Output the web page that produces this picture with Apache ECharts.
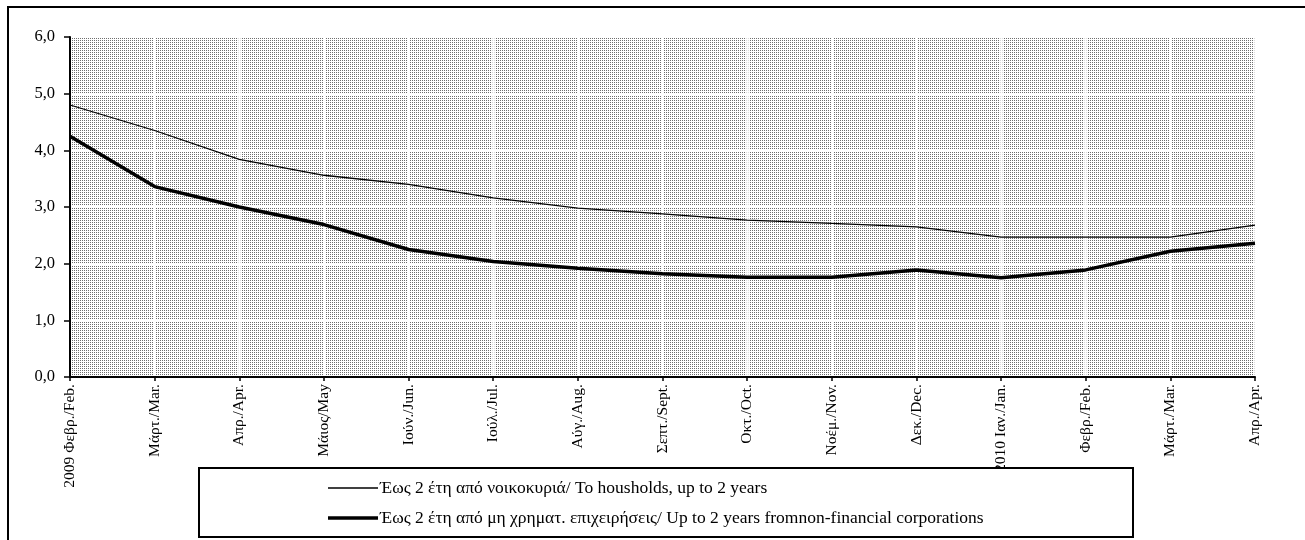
<!DOCTYPE html>
<html>
<head>
<meta charset="utf-8">
<script src="https://cdn.jsdelivr.net/npm/echarts@6/dist/echarts.min.js"></script>
<style>
html,body{margin:0;padding:0;background:#fff;}
#chart{width:1305px;height:540px;}
</style>
</head>
<body>
<div id="chart"></div>
<script>
const categories = ["2009 Φεβρ./Feb.", "Μάρτ./Mar.", "Απρ./Apr.", "Μάιος/May", "Ιούν./Jun.", "Ιούλ./Jul.", "Αύγ./Aug.", "Σεπτ./Sept.", "Οκτ./Oct.", "Νοέμ./Nov.", "Δεκ./Dec.", "2010 Ιαν./Jan.", "Φεβρ./Feb.", "Μάρτ./Mar.", "Απρ./Apr."];
const households = [4.80, 4.35, 3.84, 3.56, 3.40, 3.16, 2.98, 2.88, 2.77, 2.71, 2.65, 2.47, 2.47, 2.47, 2.68];
const corporations = [4.25, 3.36, 3.00, 2.69, 2.25, 2.04, 1.92, 1.82, 1.76, 1.76, 1.89, 1.75, 1.89, 2.22, 2.36];
const seriesNames = ["Έως 2 έτη από νοικοκυριά/ To housholds, up to 2 years", "Έως 2 έτη από μη χρηματ. επιχειρήσεις/ Up to 2 years fromnon-financial corporations"];
const yTicks = [0, 1, 2, 3, 4, 5, 6];

// dotted background pattern
const pc = document.createElement('canvas');
pc.width = 2; pc.height = 2;
const pctx = pc.getContext('2d');
pctx.fillStyle = '#ffffff';
pctx.fillRect(0, 0, 2, 2);
pctx.fillStyle = '#6e6e6e';
pctx.fillRect(0, 0, 1, 1);

const serif = '"Liberation Serif", "DejaVu Serif", serif';
const chart = echarts.init(document.getElementById('chart'), null, {renderer: 'canvas'});
chart.setOption({
  animation: false,
  backgroundColor: '#ffffff',
  grid: {
    left: 70, right: 50, top: 37, bottom: 163,
    show: true,
    backgroundColor: {image: pc, repeat: 'repeat'},
    borderWidth: 0
  },
  xAxis: {
    type: 'category',
    data: categories,
    boundaryGap: false,
    axisLine: {lineStyle: {color: '#000', width: 2}},
    axisTick: {show: true, length: 4, interval: 0, lineStyle: {color: '#000', width: 1.5}},
    axisLabel: {interval: 0, rotate: 90, margin: 7, color: '#000', fontFamily: serif, fontSize: 15.5},
    splitLine: {show: true, interval: 0, lineStyle: {color: '#ffffff', width: 2.5}}
  },
  yAxis: {
    type: 'value',
    min: yTicks[0], max: yTicks[yTicks.length - 1], interval: 1,
    axisLine: {show: true, lineStyle: {color: '#000', width: 2}},
    axisTick: {show: true, length: 6, lineStyle: {color: '#000', width: 1.5}},
    axisLabel: {color: '#000', fontFamily: serif, fontSize: 16.5, margin: 15,
      formatter: v => v.toFixed(1).replace('.', ',')},
    splitLine: {show: true, lineStyle: {color: '#ffffff', width: 2}}
  },
  legend: {
    orient: 'vertical',
    left: 328, top: 479,
    padding: 0,
    z: 200,
    itemWidth: 50, itemHeight: 18, itemGap: 12,
    textStyle: {color: '#000', fontFamily: serif, fontSize: 17.5, lineHeight: 18, padding: [0, 0, 0, -3]},
    data: seriesNames.map((n, i) => ({name: n, icon: i === 0 ? 'path://M0,0 L50,0 L50,1.3 L0,1.3 Z' : 'path://M0,0 L50,0 L50,3.6 L0,3.6 Z'})),
    itemStyle: {color: '#000', borderWidth: 0}
  },
  graphic: [
    {type: 'rect', z: 100, shape: {x: 199, y: 468, width: 934, height: 69},
      style: {fill: '#ffffff', stroke: '#000', lineWidth: 2}},
    {type: 'rect', z: 1, shape: {x: 8, y: 7, width: 1400, height: 600},
      style: {fill: 'none', stroke: '#000', lineWidth: 2}}
  ],
  series: [
    {name: seriesNames[0], type: 'line', data: households, symbol: 'none', showSymbol: false,
      lineStyle: {color: '#000', width: 1.3}, itemStyle: {color: '#000'}, z: 3},
    {name: seriesNames[1], type: 'line', data: corporations, symbol: 'none', showSymbol: false,
      lineStyle: {color: '#000', width: 3.5}, itemStyle: {color: '#000'}, z: 4}
  ]
});
</script>
</body>
</html>
